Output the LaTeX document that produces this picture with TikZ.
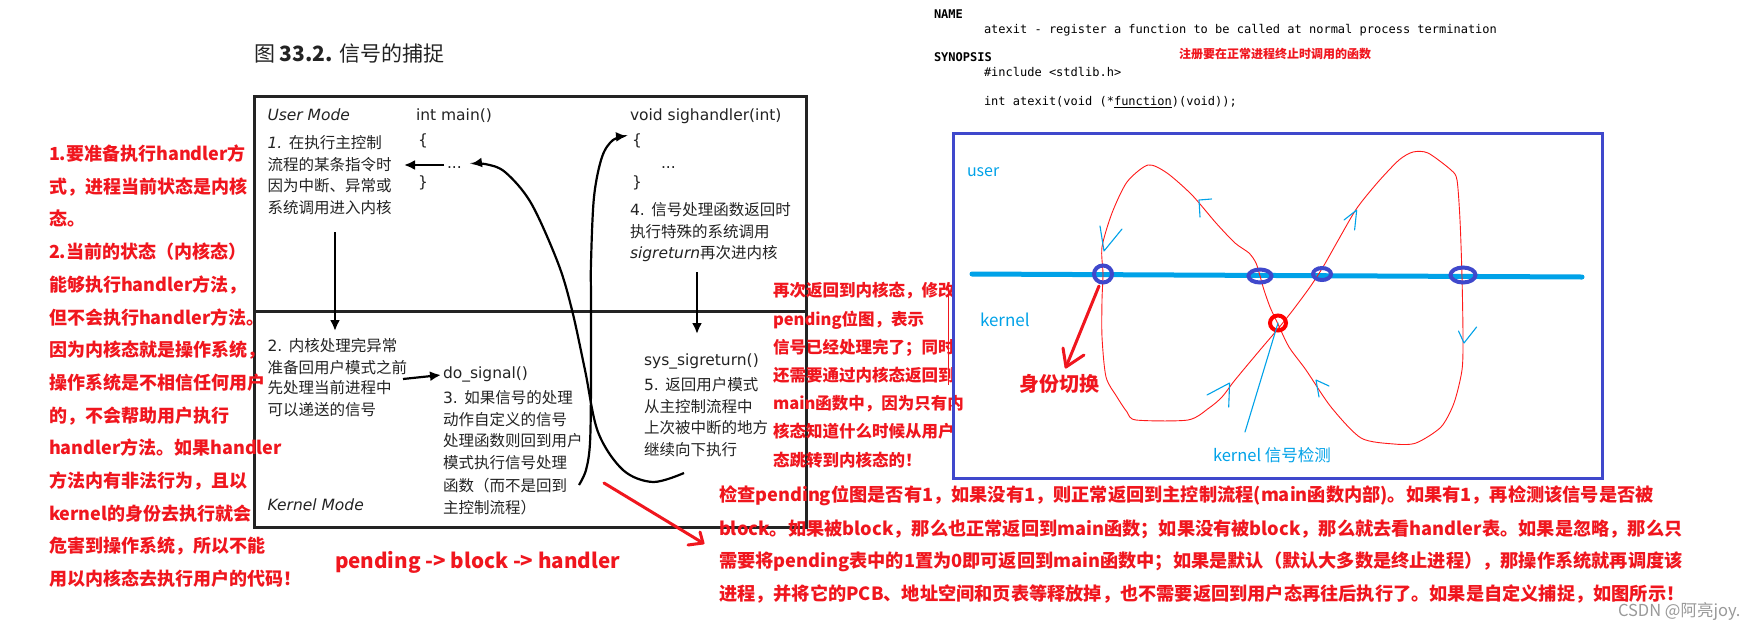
\documentclass[tikz,border=0pt]{standalone}
\usepackage{fontspec}
\usetikzlibrary{arrows.meta,shapes.geometric}
\setmainfont{DejaVu Sans}
\newfontfamily\cjk{Noto Sans CJK SC}
\newfontfamily\dvs{DejaVu Sans}
\newfontfamily\dvm{DejaVu Sans Mono}
\newcommand\zh[1]{{\cjk #1}}
\definecolor{ared}{RGB}{240,22,30}
\definecolor{pblue}{RGB}{63,72,204}
\definecolor{pcyan}{RGB}{0,162,232}
\definecolor{ink}{RGB}{35,35,35}
\tikzset{
  T/.style={anchor=west, inner sep=0pt, outer sep=0pt, text height=.88em, text depth=.12em},
  bt/.style={T, text=ink, font=\dvs\fontsize{15.5}{15.5}\selectfont},
  r18/.style={T, text=ared, font=\cjk\bfseries\fontsize{18}{18}\selectfont},
  r16/.style={T, text=ared, font=\cjk\bfseries\fontsize{16.5}{16.5}\selectfont},
  r19/.style={T, text=ared, font=\cjk\bfseries\fontsize{18.2}{18.2}\selectfont},
  mt/.style={T, text=black, font=\dvm\fontsize{12}{12}\selectfont},
  ct/.style={T, text=pcyan, font=\cjk\fontsize{16.5}{16.5}\selectfont},
  bframe/.style={draw=ink, line width=3pt},
  barrow/.style={draw=black, line width=2.2pt, -{Latex[length=11pt,width=10pt]}},
  rloop/.style={draw=red!90!white, line width=0.9pt},
  chev/.style={draw=pcyan, line width=1.1pt, line cap=round, line join=round},
  rthick/.style={draw=ared, line width=3pt, line cap=round, line join=round},
  bell/.style={draw=pblue, ellipse, line width=4pt, inner sep=0pt},
}
\begin{document}
\begin{tikzpicture}[x=1pt, y=-1pt]
\fill[white] (0,0) rectangle (1749,630);
\useasboundingbox (0,0) rectangle (1749,630);

% ---------- title ----------
\node[T, text=ink, font=\cjk\fontsize{21}{21}\selectfont] (title) at (254,58) {图 \textbf{33.2.} 信号的捕捉};

% ---------- textbook frame ----------
\draw[bframe] (254,96) rectangle (806,527);
\draw[bframe] (254,311) -- (806,311);

\node[bt] (um) at (267.5,117) {\itshape User Mode};
\node[bt] (im) at (416,117) {int main()};
\node[bt] (mo) at (418,142) {\{};
\node[bt] (md) at (447,165) {...};
\node[bt] (mc) at (418,184) {\}};
\node[bt] (s1a) at (267.5,145) {{\itshape 1.} \zh{在执行主控制}};
\node[bt] (s1b) at (267.5,167) {\zh{流程的某条指令时}};
\node[bt] (s1c) at (267.5,188) {\zh{因为中断、异常或}};
\node[bt] (s1d) at (267.5,210) {\zh{系统调用进入内核}};

\node[bt] (sh) at (630,117) {void sighandler(int)};
\node[bt] (so) at (632,142) {\{};
\node[bt] (sd) at (661,165) {...};
\node[bt] (sc) at (632,184) {\}};
\node[bt] (s4a) at (630,212) {4. \zh{信号处理函数返回时}};
\node[bt] (s4b) at (630,234) {\zh{执行特殊的系统调用}};
\node[bt] (s4c) at (630,255) {{\itshape sigreturn}\zh{再次进内核}};

\node[bt] (s2a) at (267.5,348) {2. \zh{内核处理完异常}};
\node[bt] (s2b) at (267.5,370) {\zh{准备回用户模式之前}};
\node[bt] (s2c) at (267.5,390) {\zh{先处理当前进程中}};
\node[bt] (s2d) at (267.5,412) {\zh{可以递送的信号}};

\node[bt] (ds) at (443,375) {do\_signal()};
\node[bt] (s3a) at (443,400) {3. \zh{如果信号的处理}};
\node[bt] (s3b) at (443,422) {\zh{动作自定义的信号}};
\node[bt] (s3c) at (443,443) {\zh{处理函数则回到用户}};
\node[bt] (s3d) at (443,465) {\zh{模式执行信号处理}};
\node[bt] (s3e) at (443,488) {\zh{函数（而不是回到}};
\node[bt] (s3f) at (443,510) {\zh{主控制流程）}};

\node[bt] (ss) at (644,362) {sys\_sigreturn()};
\node[bt] (s5a) at (644,387) {5. \zh{返回用户模式}};
\node[bt] (s5b) at (644,409) {\zh{从主控制流程中}};
\node[bt] (s5c) at (644,430) {\zh{上次被中断的地方}};
\node[bt] (s5d) at (644,452) {\zh{继续向下执行}};
\node[bt] (km) at (267.5,507) {\itshape Kernel Mode};

% arrows in frame
\coordinate (a1s) at (335,232);
\coordinate (a1e) at (335,331);
\draw[barrow] (a1s) -- (a1e);
\coordinate (a4s) at (697,272);
\coordinate (a4e) at (697,334);
\draw[barrow] (a4s) -- (a4e);
\coordinate (mdl) at (404,165);
\draw[barrow] ([xshift=-3pt]md.west) -- (mdl);
\coordinate (a2s) at (403,379);
\draw[barrow] (a2s) -- ([xshift=-2pt]ds.west);
\draw[barrow] plot[smooth, tension=0.55] coordinates {(684,473) (653,482) (623,470) (598,432) (585,370) (572,310) (558,263) (531,203) (505,172) (485,164) (471,164)};
\draw[barrow] plot[smooth, tension=0.55] coordinates {(579,485) (586,470) (590,443) (591,383) (591,300) (591,263) (594,197) (602,157) (613,140) (627,136)};

% ---------- left red notes ----------
\foreach \t [count=\i] in {{1.要准备执行handler方},{式，进程当前状态是内核},{态。},{2.当前的状态（内核态）},{能够执行handler方法，},{但不会执行handler方法。},{因为内核态就是操作系统，},{操作系统是不相信任何用户},{的，不会帮助用户执行},{handler方法。如果handler},{方法内有非法行为，且以},{kernel的身份去执行就会},{危害到操作系统，所以不能},{用以内核态去执行用户的代码！}}
  {\node[r18] (L\i) at (49,{156.7+32.7*(\i-1)}) {\t};}

% ---------- red notes right of frame ----------
\foreach \t [count=\i] in {{再次返回到内核态，修改},{pending位图，表示},{信号已经处理完了；同时},{还需要通过内核态返回到},{main函数中，因为只有内},{核态知道什么时候从用户},{态跳转到内核态的！}}
  {\node[r16] (R\i) at (773,{293+28.2*(\i-1)}) {\t};}
\coordinate (vl1) at (948,290);
\coordinate (vl2) at (948,385);
\draw[draw=ared, line width=0.8pt] (vl1) -- (vl2);

% ---------- pending line and arrow ----------
\node[T, text=ared, font=\cjk\bfseries\fontsize{20.6}{20.6}\selectfont] (pbh) at (335,565) {pending -> block -> handler};
\coordinate (ba1) at (604,483);
\coordinate (ba2) at (703,543);
\draw[rthick] (ba1) -- (ba2);
\draw[rthick] (700,532) -- (ba2) -- (688,545);

% ---------- bottom red text ----------
\node[r19] (B1) at (719,498) {检查pending位图是否有1，如果没有1，则正常返回到主控制流程(main函数内部)。如果有1，再检测该信号是否被};
\node[r19] (B2) at (719,532) {block。如果被block，那么也正常返回到main函数；如果没有被block，那么就去看handler表。如果是忽略，那么只};
\node[r19] (B3) at (719,564) {需要将pending表中的1置为0即可返回到main函数中；如果是默认（默认大多数是终止进程），那操作系统就再调度该};
\node[r19] (B4) at (719,597) {进程，并将它的PCB、地址空间和页表等释放掉，也不需要返回到用户态再往后执行了。如果是自定义捕捉，如图所示！};
\node[T, text=black!40, font=\cjk\fontsize{16.5}{16.5}\selectfont] (wm) at (1618,613) {CSDN @阿亮joy.};

% ---------- man page ----------
\node[mt] (nm) at (934,15) {\bfseries NAME};
\node[mt] (nd) at (984,30) {atexit - register a function to be called at normal process termination};
\node[mt] (sy) at (934,58) {\bfseries SYNOPSIS};
\node[T, text=ared, font=\cjk\bfseries\fontsize{12}{12}\selectfont] (zc) at (1179,55) {注册要在正常进程终止时调用的函数};
\node[mt] (inc) at (984,73) {\#include <stdlib.h>};
\node[mt] (proto) at (984,102) {int atexit(void (*\underline{function})(void));};

% ---------- blue box ----------
\draw[draw=pblue, line width=3pt] (953,133) rectangle (1602,478);
\node[T, text=pcyan, font=\cjk\fontsize{16}{16}\selectfont] (usr) at (967,173) {user};
\node[T, text=pcyan, font=\cjk\fontsize{17}{17}\selectfont] (krn) at (980,323) {kernel};
\coordinate (cl1) at (972,274);
\coordinate (cl2) at (1582,277);
\draw[draw=pcyan, line width=5pt, line cap=round] (cl1) -- (cl2);

\draw[rloop] plot[smooth cycle, tension=0.45] coordinates {(1103,274) (1102,247) (1112,213) (1127,182) (1148,165) (1167,173) (1192,195) (1216,223) (1235,243) (1249,253) (1256,263) (1260,276) (1264,290) (1270,307) (1277,322) (1289,347) (1306,370) (1331,407) (1361,438) (1394,444) (1416,443) (1441,427) (1454,403) (1462,370) (1463,337) (1462,277) (1460,220) (1457,180) (1451,170) (1428,153) (1413,152) (1399,160) (1378,182) (1357,208) (1340,237) (1323,267) (1310,287) (1293,310) (1277,330) (1260,350) (1235,380) (1222,397) (1209,408) (1188,420) (1136,420) (1127,412) (1117,397) (1106,377) (1102,337) (1102,300)};

\node[bell, minimum width=18pt, minimum height=17pt] (e1) at (1103,274) {};
\node[bell, minimum width=23pt, minimum height=13pt] (e2) at (1260,276) {};
\node[bell, minimum width=18pt, minimum height=12pt] (e3) at (1322,274) {};
\node[bell, minimum width=25pt, minimum height=15pt] (e4) at (1463,275) {};
\node[bell, draw=red, minimum width=16pt, minimum height=15pt] (ec) at (1278,323) {};

% chevrons
\draw[chev] (1100,226) -- (1104,251) -- (1122,229);
\draw[chev] (1211.5,199) -- (1199,200) -- (1200,217);
\draw[chev] (1344,220) -- (1356.7,210) -- (1354.6,230);
\draw[chev] (1458.5,331) -- (1464,343) -- (1476.6,327);
\draw[chev] (1207,395) -- (1229.6,383) -- (1228.7,407);
\draw[chev] (1329,386) -- (1316,380) -- (1319,397);
\coordinate (kp) at (1245,432);
\draw[chev] (ec.center) -- (kp);
\node[ct] (kd) at (1213,458) {kernel 信号检测};

% identity switch arrow
\coordinate (sw) at (1066,367);
\draw[rthick] ([shift={(-4pt,-12pt)}]e1.center) -- (sw);
\draw[rthick] (1063,348) -- (sw) -- (1084,355);
\node[T, text=ared, font=\cjk\bfseries\fontsize{20}{20}\selectfont] (sf) at (1019,388) {身份切换};
\end{tikzpicture}
\end{document}
